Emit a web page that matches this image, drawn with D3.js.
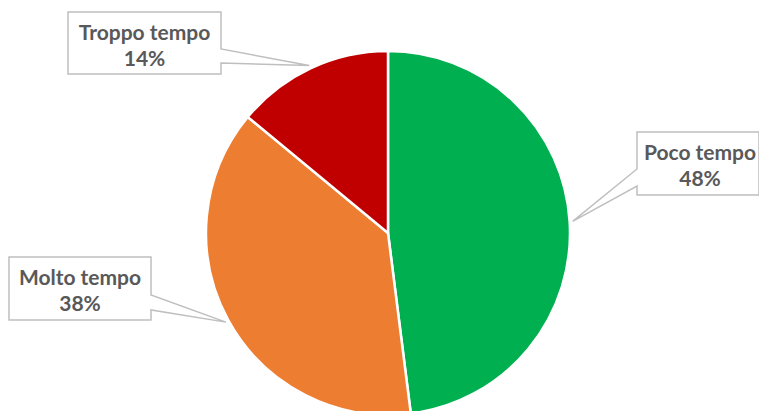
<!DOCTYPE html>
<html>
<head>
<meta charset="utf-8">
<script src="https://cdn.jsdelivr.net/npm/d3@7"></script>
<style>
  html, body { margin: 0; padding: 0; background: #fff; }
  svg { display: block; }
</style>
</head>
<body>
<svg id="chart" width="759" height="411"></svg>
<script>
// Share of answers per category
const categories = ["Poco tempo", "Molto tempo", "Troppo tempo"];
const values = [48, 38, 14];
const colors = ["#00B050", "#ED7D31", "#C00000"];

// Callout boxes: [x, y, width, height] and which side the pointer leaves from
const boxes = [
  { x: 637, y: 132, w: 122, h: 63, side: "left", wy: [169, 186] },
  { x: 9, y: 257, w: 142, h: 63, side: "right", wy: [295, 310] },
  { x: 68, y: 12, w: 153, h: 62, side: "right", wy: [49, 63] }
];

const svg = d3.select("#chart");
const cx = 388, cy = 233, r = 182;

const pie = d3.pie().sort(null).value(d => d)(values);
const arc = d3.arc().innerRadius(0).outerRadius(r);

const g = svg.append("g").attr("transform", `translate(${cx},${cy})`);
g.selectAll("path.slice")
  .data(pie)
  .join("path")
  .attr("class", "slice")
  .attr("d", arc)
  .attr("fill", (d, i) => colors[i])
  .attr("stroke", "#fff")
  .attr("stroke-width", 2.5)
  .attr("stroke-linejoin", "round");

const total = d3.sum(values);
const fmt = v => Math.round(v / total * 100) + "%";

pie.forEach((d, i) => {
  const b = boxes[i];
  const a = (d.startAngle + d.endAngle) / 2;
  const tr = r + 3;
  const tx = cx + tr * Math.sin(a);
  const ty = cy - tr * Math.cos(a);
  let p;
  if (b.side === "right") {
    const x1 = b.x + b.w;
    p = `M${b.x},${b.y}H${x1}V${b.wy[0]}L${tx},${ty}L${x1},${b.wy[1]}V${b.y + b.h}H${b.x}Z`;
  } else {
    const x1 = b.x + b.w;
    p = `M${b.x},${b.y}H${x1}V${b.y + b.h}H${b.x}V${b.wy[1]}L${tx},${ty}L${b.x},${b.wy[0]}Z`;
  }
  svg.append("path")
    .attr("d", p)
    .attr("fill", "#fff")
    .attr("stroke", "#BFBFBF")
    .attr("stroke-width", 1.5);

  const t = svg.append("text")
    .attr("text-anchor", "middle")
    .attr("font-family", "Lato, 'Open Sans', sans-serif")
    .attr("font-weight", "bold")
    .attr("font-size", 21)
    .attr("fill", "#595959");
  const mx = b.side === "left" ? b.x + 63 : b.x + b.w / 2;
  t.append("tspan").attr("x", mx).attr("y", b.y + 28).text(categories[i]);
  t.append("tspan").attr("x", mx).attr("y", b.y + 54).text(fmt(d.value));
});
</script>
</body>
</html>
